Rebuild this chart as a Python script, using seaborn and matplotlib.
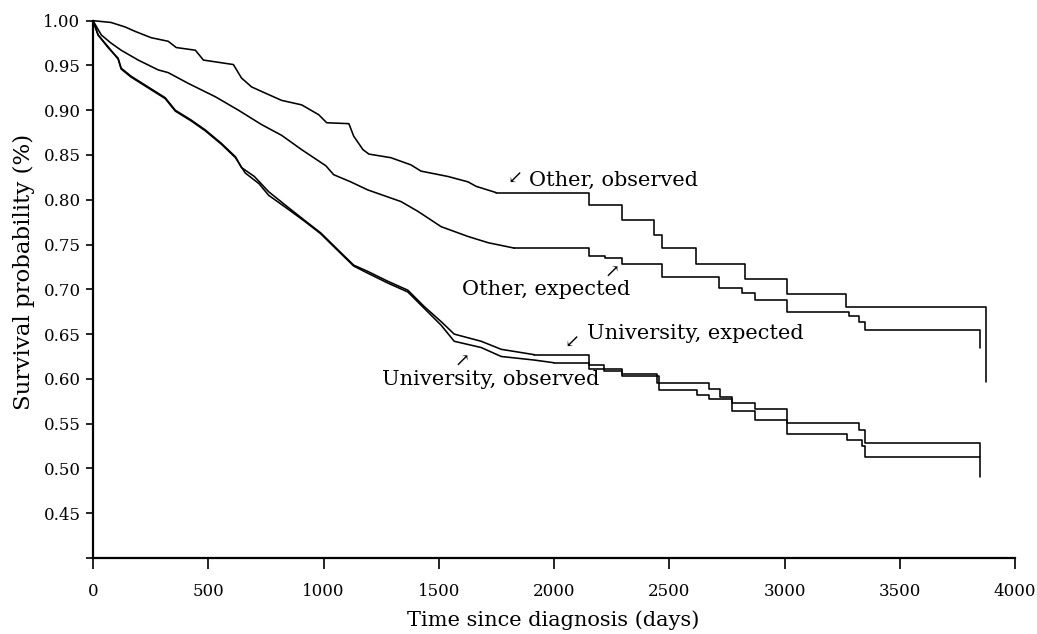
import matplotlib
matplotlib.use("Agg")
import matplotlib.pyplot as plt
import seaborn as sns
import pandas as pd

# ---- data ----
other_obs_t = [0, 78, 139, 183, 252, 326, 361, 444, 479, 609, 644, 688, 731, 818, 905, 979, 1014,
               1110, 1131, 1171, 1197, 1292, 1379, 1423, 1540, 1627, 1662, 1749, 2150, 2293, 2433,
               2467, 2615, 2829, 3011, 3268, 3873]
other_obs_p = [1.000, 0.998, 0.993, 0.988, 0.981, 0.977, 0.970, 0.967, 0.956, 0.951, 0.936, 0.926,
               0.921, 0.911, 0.906, 0.895, 0.886, 0.885, 0.871, 0.856, 0.851, 0.847, 0.839, 0.832,
               0.826, 0.820, 0.815, 0.808, 0.794, 0.777, 0.761, 0.746, 0.728, 0.712, 0.695, 0.680,
               0.597]

other_exp_t = [0, 36, 78, 122, 196, 283, 326, 413, 531, 631, 731, 818, 905, 1010, 1044, 1118, 1192,
               1336, 1410, 1510, 1627, 1715, 1828, 2150, 2220, 2293, 2467, 2715, 2816, 2872, 3011,
               3280, 3325, 3351, 3847]
other_exp_p = [1.000, 0.984, 0.975, 0.967, 0.956, 0.945, 0.942, 0.930, 0.915, 0.900, 0.884, 0.872,
               0.856, 0.838, 0.828, 0.820, 0.811, 0.798, 0.787, 0.770, 0.759, 0.752, 0.746, 0.737,
               0.735, 0.728, 0.714, 0.702, 0.696, 0.688, 0.675, 0.670, 0.664, 0.655, 0.635]

univ_exp_t = [0, 22, 65, 109, 122, 165, 239, 313, 357, 426, 487, 557, 618, 644, 700, 762, 849, 923,
              988, 1075, 1131, 1192, 1279, 1366, 1436, 1510, 1567, 1684, 1771, 1915, 2150, 2215,
              2293, 2446, 2672, 2720, 2772, 2872, 3011, 3325, 3351, 3847]
univ_exp_p = [1.000, 0.984, 0.970, 0.958, 0.947, 0.938, 0.926, 0.914, 0.900, 0.889, 0.878, 0.863,
              0.848, 0.836, 0.826, 0.809, 0.791, 0.776, 0.763, 0.741, 0.727, 0.720, 0.709, 0.699,
              0.681, 0.664, 0.650, 0.642, 0.633, 0.627, 0.615, 0.609, 0.605, 0.595, 0.589, 0.580,
              0.573, 0.566, 0.551, 0.543, 0.528, 0.513]

univ_obs_t = [0, 22, 65, 109, 122, 165, 239, 313, 357, 426, 487, 557, 618, 660, 720, 762, 849, 923,
              988, 1075, 1131, 1192, 1279, 1366, 1436, 1510, 1567, 1684, 1771, 1915, 2000, 2150,
              2293, 2454, 2620, 2672, 2772, 2872, 3011, 3272, 3338, 3351, 3847]
univ_obs_p = [1.000, 0.984, 0.971, 0.957, 0.946, 0.937, 0.925, 0.913, 0.899, 0.888, 0.877, 0.862,
              0.847, 0.830, 0.818, 0.805, 0.789, 0.775, 0.762, 0.740, 0.726, 0.718, 0.707, 0.697,
              0.679, 0.660, 0.642, 0.635, 0.625, 0.621, 0.618, 0.611, 0.603, 0.588, 0.582, 0.577,
              0.564, 0.554, 0.538, 0.532, 0.525, 0.513, 0.490]

# time after which each curve is drawn as a coarse staircase (dense, fine-grained before)
stair_from = {"other_obs": 1749, "other_exp": 1828, "univ_exp": 1915, "univ_obs": 2000}

x_ticks = [0, 500, 1000, 1500, 2000, 2500, 3000, 3500, 4000]
y_ticks = [0.40, 0.45, 0.50, 0.55, 0.60, 0.65, 0.70, 0.75, 0.80, 0.85, 0.90, 0.95, 1.00]
y_tick_labels = ["", "0.45", "0.50", "0.55", "0.60", "0.65", "0.70", "0.75", "0.80",
                 "0.85", "0.90", "0.95", "1.00"]

# ---- figure ----
sns.set_theme(style="ticks")
plt.rcParams["font.family"] = ["DejaVu Serif", "DejaVu Sans"]

fig = plt.figure(figsize=(10.37, 6.34), dpi=100)
ax = fig.add_axes([0.0897, 0.1199, 0.9788 - 0.0897, 0.9674 - 0.1199])

series = {"other_obs": (other_obs_t, other_obs_p), "other_exp": (other_exp_t, other_exp_p),
          "univ_exp": (univ_exp_t, univ_exp_p), "univ_obs": (univ_obs_t, univ_obs_p)}
line_kw = dict(estimator=None, sort=False, color="black", linewidth=1.15, ax=ax, clip_on=False)
for key, (t, p) in series.items():
    df = pd.DataFrame({"t": t, "p": p})
    cut = stair_from[key]
    early = df[df["t"] <= cut]
    late = df[df["t"] >= cut]
    sns.lineplot(data=early, x="t", y="p", **line_kw)
    sns.lineplot(data=late, x="t", y="p", drawstyle="steps-post", **line_kw)

ax.set_xlim(0, 4000)
ax.set_ylim(0.40, 1.00)
ax.set_xticks(x_ticks)
ax.set_xticklabels([str(v) for v in x_ticks])
ax.set_yticks(y_ticks)
ax.set_yticklabels(y_tick_labels)
ax.tick_params(axis="x", direction="out", length=8, width=1.2, pad=10, labelsize=12, colors="black")
ax.tick_params(axis="y", direction="out", length=5, width=1.2, pad=4, labelsize=12, colors="black")
for s in ["top", "right"]:
    ax.spines[s].set_visible(False)
for s in ["left", "bottom"]:
    ax.spines[s].set_linewidth(1.6)
    ax.spines[s].set_color("black")

ax.set_xlabel("Time since diagnosis (days)", fontsize=15, color="black")
ax.xaxis.set_label_coords(0.499, -0.098)
ax.set_ylabel("Survival probability (%)", fontsize=16.5, color="black")
ax.yaxis.set_label_coords(-0.063, 0.532)

tkw = dict(fontsize=15, color="black", va="center", ha="left")
akw = dict(fontsize=13, color="black", va="center", ha="center")
ax.text(1830, 0.823, "↙", **akw)
ax.text(1890, 0.822, "Other, observed", **tkw)
ax.text(1601, 0.700, "Other, expected", **tkw)
ax.text(2252, 0.719, "↗", **akw)
ax.text(2078, 0.640, "↙", **akw)
ax.text(2143, 0.651, "University, expected", **tkw)
ax.text(1254, 0.599, "University, observed", **tkw)
ax.text(1601, 0.619, "↗", **akw)

fig.savefig("out.png", dpi=100, facecolor="white")
